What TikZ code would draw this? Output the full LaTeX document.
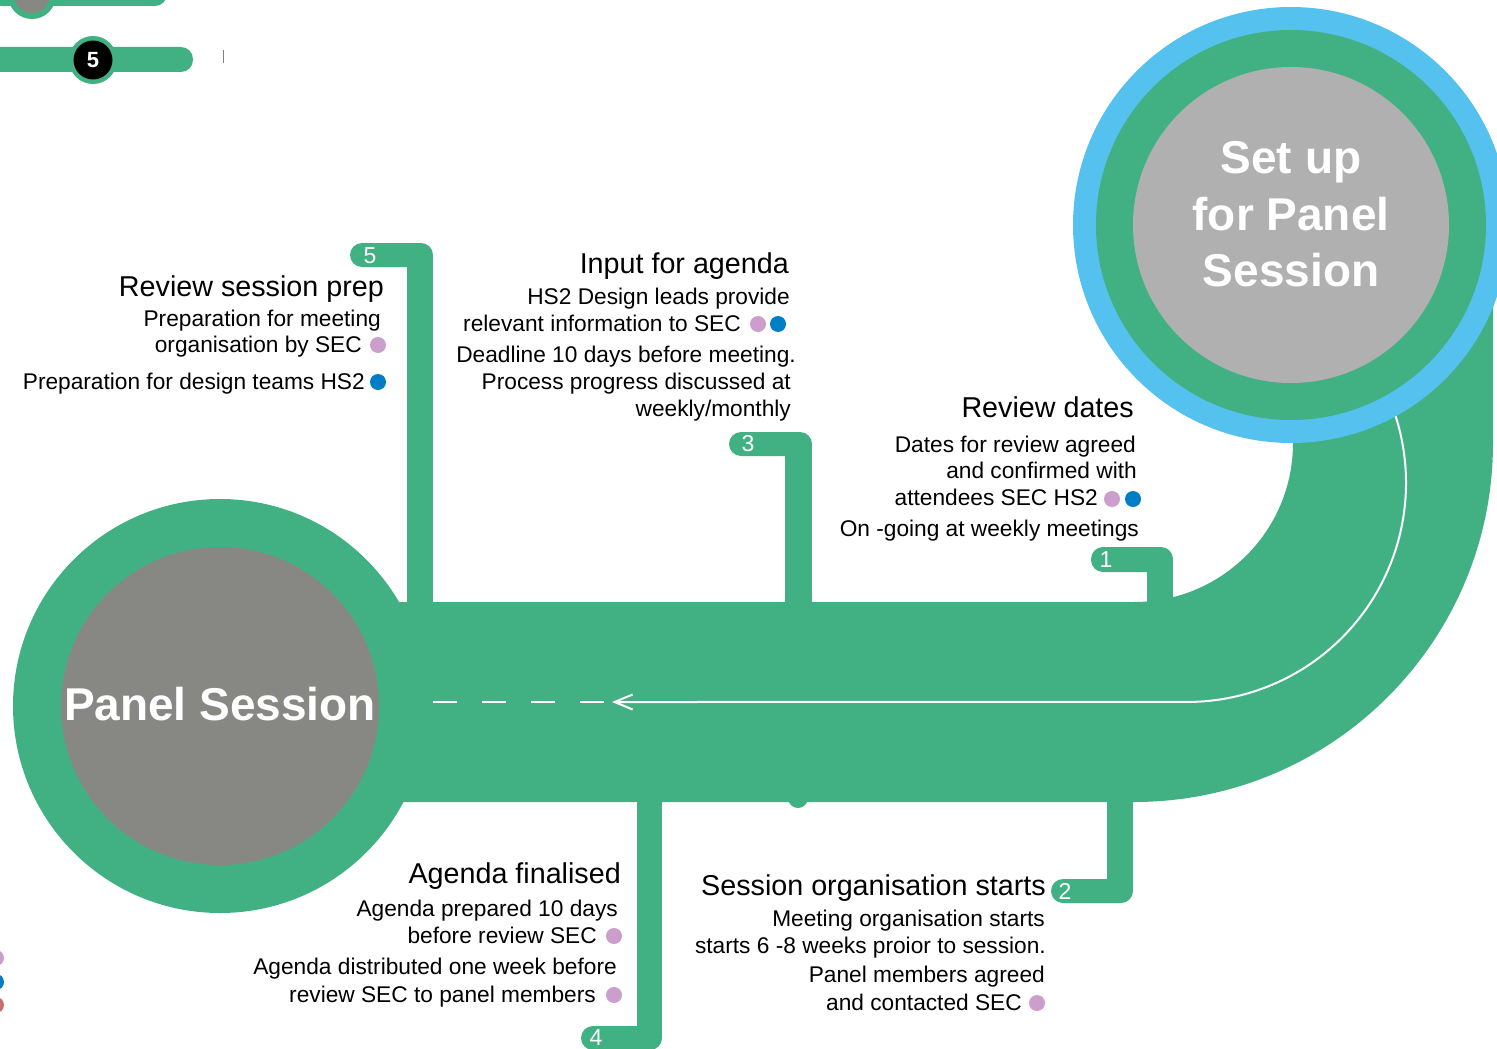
\documentclass[tikz,border=0pt]{standalone}
\usepackage{fontspec}
\setmainfont{Liberation Sans}
\usetikzlibrary{arrows.meta}
\definecolor{band}{RGB}{65,177,132}
\definecolor{sky}{RGB}{85,193,238}
\definecolor{greyA}{RGB}{176,176,176}
\definecolor{greyB}{RGB}{135,135,132}
\definecolor{dotpink}{RGB}{204,158,204}
\definecolor{dotblue}{RGB}{0,125,197}
\definecolor{dotred}{RGB}{198,112,108}
\begin{document}
\begin{tikzpicture}[x=1pt, y=-1pt,
  ttl/.style={anchor=base east, inner sep=0, font=\fontsize{28.7}{32}\selectfont},
  txt/.style={anchor=base east, inner sep=0, font=\fontsize{22.7}{26}\selectfont},
  num/.style={text=white, inner sep=0, font=\fontsize{23}{26}\selectfont},
  big/.style={text=white, anchor=base, inner sep=0, font=\fontsize{46}{56}\selectfont\bfseries},
  bullet/.style={circle, inner sep=0, minimum size=16pt}]
  \useasboundingbox (0,0) rectangle (1497,1049);

  % cut-off rows at the top left
  \fill[band, rounded corners=12] (-30,-19) rectangle (167,6);
  \fill[band] (32,-5) circle[radius=24];
  \fill[greyB] (32,-5) circle[radius=18];
  \fill[band, rounded corners=12] (-30,47) rectangle (193,72);
  \fill[band] (93,60) circle[radius=24];
  \fill[black] (93,60) circle[radius=19.5];
  \node[num, font=\fontsize{22}{26}\selectfont\bfseries] (stepFive) at (93,60) {5};
  \draw[gray, line width=1pt] (223,50) -- (223,63);
  \node[bullet, fill=dotpink] (legA) at (-4,958) {};
  \node[bullet, fill=dotblue] (legB) at (-4,982) {};
  \node[bullet, fill=dotred] (legC) at (-4,1005) {};

  % the track
  \fill[band] (220,602) -- (1134,602) arc[start angle=90, end angle=0, radius=159]
    -- (1293,280) -- (1493,280) -- (1493,443) arc[start angle=0, end angle=90, radius=359]
    -- (220,802) -- cycle;
  \fill[band] (798,798) circle[radius=10];

  % tabs
  \fill[band, rounded corners=12] (350,243) rectangle (433,267);
  \fill[band] (407,255) rectangle (433,606);
  \fill[band, rounded corners=12] (729,432) rectangle (812,456);
  \fill[band] (785,444) rectangle (812,606);
  \fill[band, rounded corners=12] (1091,547) rectangle (1173,572);
  \fill[band] (1147,560) rectangle (1173,606);
  \fill[band, rounded corners=12] (1051,879) rectangle (1133,903);
  \fill[band] (1107,800) rectangle (1133,891);
  \fill[band, rounded corners=12] (581,1026) rectangle (662,1050);
  \fill[band] (637,800) rectangle (662,1038);
  \node[num] (tabFive) at (370,256) {5};
  \node[num] (tabThree) at (748,444) {3};
  \node[num] (tabOne) at (1106,560) {1};
  \node[num] (tabTwo) at (1065,891) {2};
  \node[num] (tabFour) at (596,1038) {4};

  % flow line
  \coordinate (arcTop) at (1385.5,390.4);
  \coordinate (arrTip) at (612,702);
  \coordinate (dashA) at (604,702);
  \coordinate (dashB) at (433,702);
  \draw[white, line width=2pt, -{Straight Barb[length=18pt, width=15pt]}]
    (arcTop) arc[start angle=-25, end angle=90, radius=219] -- (arrTip);
  \draw[white, line width=2pt, dash pattern=on 24pt off 25pt] (dashA) -- (dashB);

  % circles
  \fill[band] (220,706) circle[radius=207];
  \fill[greyB] (220,706) circle[radius=159];
  \fill[sky] (1291,225) circle[radius=218];
  \fill[band] (1291,225) circle[radius=195];
  \fill[greyA] (1291,225) circle[radius=158];
  \node[big] (panelL) at (220,720) {Panel Session};
  \node[big] (setupA) at (1291,173) {Set up};
  \node[big] (setupB) at (1291,230) {for Panel};
  \node[big] (setupC) at (1291,286) {Session};

  % step 5
  \node[ttl] (prepT) at (384,296) {Review session prep};
  \node[txt] (prepA) at (381,326) {Preparation for meeting};
  \node[txt] (prepB) at (362,352) {organisation by SEC};
  \node[txt] (prepC) at (365,389) {Preparation for design teams HS2};
  \node[bullet, fill=dotpink] (prepD1) at (378,345) {};
  \node[bullet, fill=dotblue] (prepD2) at (378,382) {};

  % step 3
  \node[ttl] (inT) at (789,273) {Input for agenda};
  \node[txt] (inA) at (790,304) {HS2 Design leads provide};
  \node[txt] (inB) at (741,331) {relevant information to SEC};
  \node[txt] (inC) at (796,362) {Deadline 10 days before meeting.};
  \node[txt] (inD) at (791,389) {Process progress discussed at};
  \node[txt] (inE) at (791,416) {weekly/monthly};
  \node[bullet, fill=dotpink] (inD1) at (758,324) {};
  \node[bullet, fill=dotblue] (inD2) at (778,324) {};

  % step 1
  \node[ttl] (revT) at (1134,417) {Review dates};
  \node[txt] (revA) at (1136,452) {Dates for review agreed};
  \node[txt] (revB) at (1137,478) {and confirmed with};
  \node[txt] (revC) at (1098,505) {attendees SEC HS2};
  \node[txt] (revD) at (1139,536) {On -going at weekly meetings};
  \node[bullet, fill=dotpink] (revD1) at (1112,499) {};
  \node[bullet, fill=dotblue] (revD2) at (1133,499) {};

  % step 4
  \node[ttl] (finT) at (621,883) {Agenda finalised};
  \node[txt] (finA) at (618,916) {Agenda prepared 10 days};
  \node[txt] (finB) at (597,943) {before review SEC};
  \node[txt] (finC) at (617,974) {Agenda distributed one week before};
  \node[txt] (finD) at (596,1002) {review SEC to panel members};
  \node[bullet, fill=dotpink] (finD1) at (614,936) {};
  \node[bullet, fill=dotpink] (finD2) at (614,995) {};

  % step 2
  \node[ttl] (orgT) at (1046,895) {Session organisation starts};
  \node[txt] (orgA) at (1045,926) {Meeting organisation starts};
  \node[txt] (orgB) at (1046,953) {starts 6 -8 weeks proior to session.};
  \node[txt] (orgC) at (1045,982) {Panel members agreed};
  \node[txt] (orgD) at (1022,1010) {and contacted SEC};
  \node[bullet, fill=dotpink] (orgD1) at (1037,1003) {};
\end{tikzpicture}
\end{document}
